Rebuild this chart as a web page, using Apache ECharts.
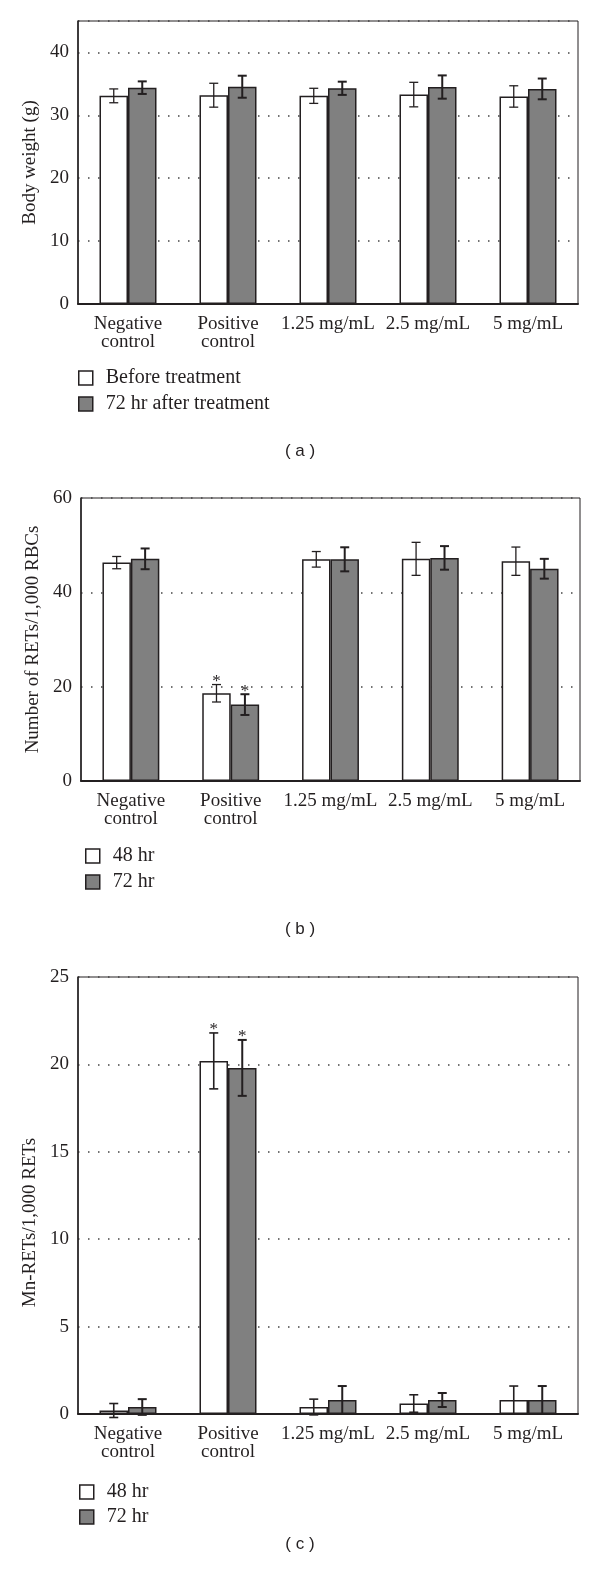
<!DOCTYPE html>
<html>
<head>
<meta charset="utf-8">
<script src="https://cdn.jsdelivr.net/npm/echarts@6/dist/echarts.min.js"></script>
<style>
  html, body { margin: 0; padding: 0; background: #fff; }
  #chart { width: 600px; height: 1578px; }
</style>
</head>
<body>
<div id="chart"></div>
<script>
var categories = ['Negative\ncontrol', 'Positive\ncontrol', '1.25 mg/mL', '2.5 mg/mL', '5 mg/mL'];

// (a) body weight
var weightBefore = [33.1, 33.2, 33.1, 33.3, 33.0];
var weightBeforeErr = [1.1, 1.9, 1.2, 1.95, 1.7];
var weightAfter = [34.4, 34.55, 34.3, 34.5, 34.2];
var weightAfterErr = [1.0, 1.75, 1.05, 1.85, 1.65];

// (b) RETs / 1,000 RBCs
var ret48 = [46.3, 18.6, 47.0, 47.1, 46.6];
var ret48Err = [1.3, 1.85, 1.65, 3.5, 3.0];
var ret72 = [47.1, 16.2, 47.0, 47.3, 45.0];
var ret72Err = [2.2, 2.2, 2.55, 2.5, 2.1];
var retSig = [0, 1, 0, 0, 0];

// (c) Mn-RETs / 1,000 RETs
var mn48 = [0.2, 20.2, 0.4, 0.6, 0.8];
var mn48Err = [0.4, 1.6, 0.45, 0.5, 0.8];
var mn72 = [0.4, 19.8, 0.8, 0.8, 0.8];
var mn72Err = [0.45, 1.6, 0.8, 0.4, 0.8];
var mnSig = [0, 1, 0, 0, 0];

var serif = 'Liberation Serif';
var ink = '#231f20';
var grey = '#808080';
var barPct = 0.285;

var myChart = echarts.init(document.getElementById('chart'));

function errData(vals, errs, sig) {
    return vals.map(function (v, i) {
        return [i, v, errs[i], sig ? sig[i] : 0];
    });
}

// error bars (and the * marks) drawn next to the grouped bars
function errSeries(name, gridIdx, side, vals, errs, sig, width) {
    return {
        name: name + ' err',
        type: 'custom',
        xAxisIndex: gridIdx,
        yAxisIndex: gridIdx,
        z: 5,
        silent: true,
        data: errData(vals, errs, sig),
        renderItem: function (params, api) {
            var i = api.value(0), v = api.value(1), e = api.value(2), s = api.value(3);
            var band = api.size([1, 0])[0];
            var x = api.coord([i, v])[0] + side * band * barPct / 2;
            var top = api.coord([i, v + e])[1];
            var bot = api.coord([i, v - e])[1];
            var st = { stroke: ink, lineWidth: width };
            var kids = [
                { type: 'line', shape: { x1: x, y1: top, x2: x, y2: bot }, style: st },
                { type: 'line', shape: { x1: x - 4.5, y1: top, x2: x + 4.5, y2: top }, style: st },
                { type: 'line', shape: { x1: x - 4.5, y1: bot, x2: x + 4.5, y2: bot }, style: st }
            ];
            if (s) {
                kids.push({
                    type: 'text',
                    style: { text: '*', x: x, y: top - 3, align: 'center', verticalAlign: 'middle',
                        font: '17px ' + serif, fill: ink }
                });
            }
            return { type: 'group', children: kids };
        }
    };
}

function barSeries(name, gridIdx, vals, fill) {
    return {
        name: name,
        type: 'bar',
        xAxisIndex: gridIdx,
        yAxisIndex: gridIdx,
        barWidth: (barPct * 100) + '%',
        barGap: '0%',
        itemStyle: { color: fill, borderColor: ink, borderWidth: 1.5 },
        data: vals
    };
}

function xAx(gridIdx) {
    return {
        type: 'category',
        gridIndex: gridIdx,
        data: categories,
        axisLine: { lineStyle: { color: ink, width: 2 } },
        axisTick: { show: false },
        axisLabel: { color: ink, fontFamily: serif, fontSize: 19, lineHeight: 18, margin: 11, interval: 0 }
    };
}

function yAx(gridIdx, max, interval, name, showMax, namePad) {
    return {
        type: 'value',
        gridIndex: gridIdx,
        min: 0, max: max, interval: interval,
        name: name,
        nameLocation: 'middle',
        nameGap: 38,
        nameTextStyle: { color: ink, fontFamily: serif, fontSize: 19, padding: namePad || 0 },
        axisLine: { show: true, lineStyle: { color: ink, width: 1.5 } },
        axisTick: { show: false },
        axisLabel: { color: ink, fontFamily: serif, fontSize: 19, margin: 9, showMaxLabel: showMax },
        splitLine: { lineStyle: { color: '#444', width: 1.5, type: [1.5, 8.5] } }
    };
}

function legendFor(top, left, names, gap) {
    return {
        orient: 'vertical',
        left: left, top: top,
        padding: 0,
        itemWidth: 14, itemHeight: 14, itemGap: gap,
        icon: 'rect',
        selectedMode: false,
        textStyle: { color: ink, fontFamily: serif, fontSize: 20, lineHeight: 20, padding: [0, 0, 0, 8] },
        data: [
            { name: names[0], itemStyle: { color: '#fff', borderColor: ink, borderWidth: 1.5 } },
            { name: names[1], itemStyle: { color: grey, borderColor: ink, borderWidth: 1.5 } }
        ]
    };
}

function caption(txt, y) {
    return {
        type: 'text', left: 'center', top: y,
        style: { text: txt, font: '17px Liberation Sans', fill: ink }
    };
}

var gridStyle = { show: true, borderColor: ink, borderWidth: 1, backgroundColor: 'transparent' };

myChart.setOption({
    animation: false,
    backgroundColor: '#fff',
    grid: [
        Object.assign({ left: 78, top: 21, right: 22, height: 283 }, gridStyle),
        Object.assign({ left: 81, top: 498, right: 20, height: 283 }, gridStyle),
        Object.assign({ left: 78, top: 977, right: 22, height: 437 }, gridStyle)
    ],
    xAxis: [xAx(0), xAx(1), xAx(2)],
    yAxis: [
        yAx(0, 45, 10, 'Body weight (g)', false),
        yAx(1, 60, 20, 'Number of RETs/1,000 RBCs', true),
        yAx(2, 25, 5, 'Mn-RETs/1,000 RETs', true, [0, 54, 0, 0])
    ],
    legend: [
        legendFor(368, 78, ['Before treatment', '72 hr after treatment'], 6),
        legendFor(846, 85, ['48 hr', '72 hr'], 6),
        legendFor(1482, 79, ['48 hr', '72 hr'], 5)
    ],
    graphic: [
        caption('( a )', 443),
        caption('( b )', 921),
        caption('( c )', 1536)
    ],
    series: [
        barSeries('Before treatment', 0, weightBefore, '#fff'),
        barSeries('72 hr after treatment', 0, weightAfter, grey),
        errSeries('Before treatment', 0, -1, weightBefore, weightBeforeErr, null, 1.3),
        errSeries('72 hr after treatment', 0, 1, weightAfter, weightAfterErr, null, 2),

        barSeries('48 hr', 1, ret48, '#fff'),
        barSeries('72 hr', 1, ret72, grey),
        errSeries('48 hr', 1, -1, ret48, ret48Err, retSig, 1.3),
        errSeries('72 hr', 1, 1, ret72, ret72Err, retSig, 2),

        barSeries('48 hr', 2, mn48, '#fff'),
        barSeries('72 hr', 2, mn72, grey),
        errSeries('48 hr', 2, -1, mn48, mn48Err, mnSig, 1.6),
        errSeries('72 hr', 2, 1, mn72, mn72Err, mnSig, 2)
    ]
});

window.onresize = function () {
    myChart.resize();
};
</script>
</body>
</html>
